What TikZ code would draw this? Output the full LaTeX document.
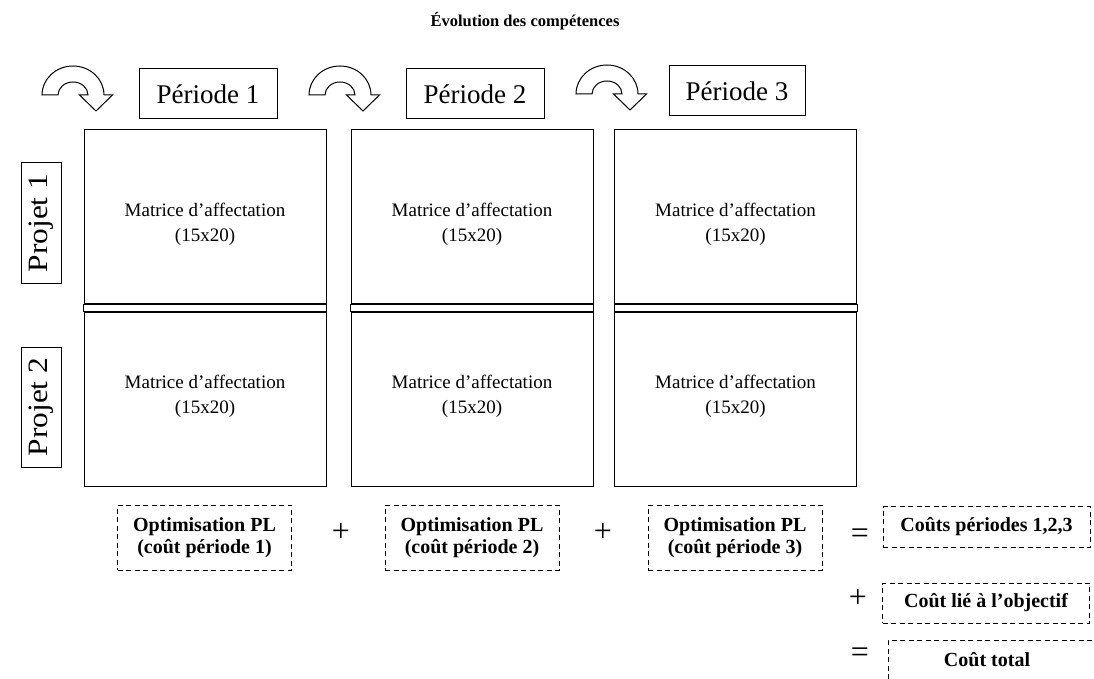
\documentclass[tikz,border=0pt]{standalone}
\usepackage{fontspec}
\setmainfont{Liberation Serif}
\begin{document}
\begin{tikzpicture}[x=1pt,y=1pt,
  thinline/.style={line width=1pt},
  solidbox/.style={draw, thinline, inner sep=0pt},
  periodbox/.style={solidbox, minimum width=138pt, minimum height=50pt,
    font=\fontsize{27}{30}\selectfont},
  projbox/.style={solidbox, rotate=90, minimum width=120pt, minimum height=40pt,
    font=\fontsize{28}{30}\selectfont},
  matbox/.style={solidbox, minimum width=242pt},
  mattext/.style={align=center, font=\fontsize{19}{25}\selectfont},
  dashbox/.style={draw, thinline, dash pattern=on 5pt off 3.5pt, inner sep=0pt,
    align=center, font=\fontsize{20}{22}\selectfont\bfseries},
  optbox/.style={dashbox, minimum width=174pt, minimum height=65pt},
  sumbox/.style={dashbox, minimum width=207pt, minimum height=41pt},
  opsign/.style={inner sep=0pt, font=\fontsize{32}{32}\selectfont},
  uturn/.pic={
    \draw[thinline, line join=miter, fill=white]
      (-31,0) arc[start angle=180, end angle=0, x radius=31, y radius=29]
      -- (39.5,0) -- (23,-16) -- (6.5,0) -- (15,0)
      arc[start angle=0, end angle=180, x radius=15, y radius=13] -- cycle;
  }
]
\useasboundingbox (0,0) rectangle (1094,-679);

% title
\node[font=\fontsize{16.5}{18}\selectfont\bfseries] (title) at (525,-21) {Évolution des compétences};

% period headers with their turning arrows
\pic at (73,-95) {uturn};
\pic at (340,-95) {uturn};
\pic at (607,-94) {uturn};
\node[periodbox] (p1) at (208,-94) {Période 1};
\node[periodbox] (p2) at (475,-94) {Période 2};
\node[periodbox, minimum width=136pt] (p3) at (737,-91) {Période 3};

% project labels
\node[projbox] (pj1) at (41,-223) {\scalebox{1.12}[1]{Projet 1}};
\node[projbox] (pj2) at (41,-407) {\scalebox{1.12}[1]{Projet 2}};

% assignment matrices, one column per period
\foreach \i/\cx in {1/205, 2/472, 3/735.5} {
  \node[matbox, minimum height=173.5pt] (top\i) at (\cx,-216.75) {};
  \node[matbox, minimum height=174pt] (bot\i) at (\cx,-399) {};
  \draw[thinline] (top\i.south west) rectangle (bot\i.north east);
  \node[mattext] (tt\i) at (\cx,-224.5) {Matrice d’affectation\\(15x20)};
  \node[mattext] (bt\i) at (\cx,-396.5) {Matrice d’affectation\\(15x20)};
}

% optimisation per period
\node[optbox] (o1) at (204.5,-537.5) {Optimisation PL\\(coût période 1)};
\node[optbox] (o2) at (472,-537.5) {Optimisation PL\\(coût période 2)};
\node[optbox] (o3) at (735,-537.5) {Optimisation PL\\(coût période 3)};
\node[opsign] (plus1) at (341,-532) {+};
\node[opsign] (plus2) at (603,-532) {+};
\node[opsign] (eq1) at (860,-536) {=};

% totals
\node[sumbox] (cp) at (986.5,-527) {Coûts périodes 1,2,3};
\node[opsign] (plus3) at (858,-598) {+};
\node[sumbox, minimum height=40pt] (co) at (986,-603) {Coût lié à l’objectif};
\node[opsign] (eq2) at (860,-655) {=};
\begin{scope}
  \clip (0,0) rectangle (1094,-679);
  \node[dashbox, minimum width=212pt, minimum height=52pt] (ctbox) at (994,-666) {};
\end{scope}
\node[font=\fontsize{20}{22}\selectfont\bfseries] (ct) at (987,-660) {Coût total};
\end{tikzpicture}
\end{document}
